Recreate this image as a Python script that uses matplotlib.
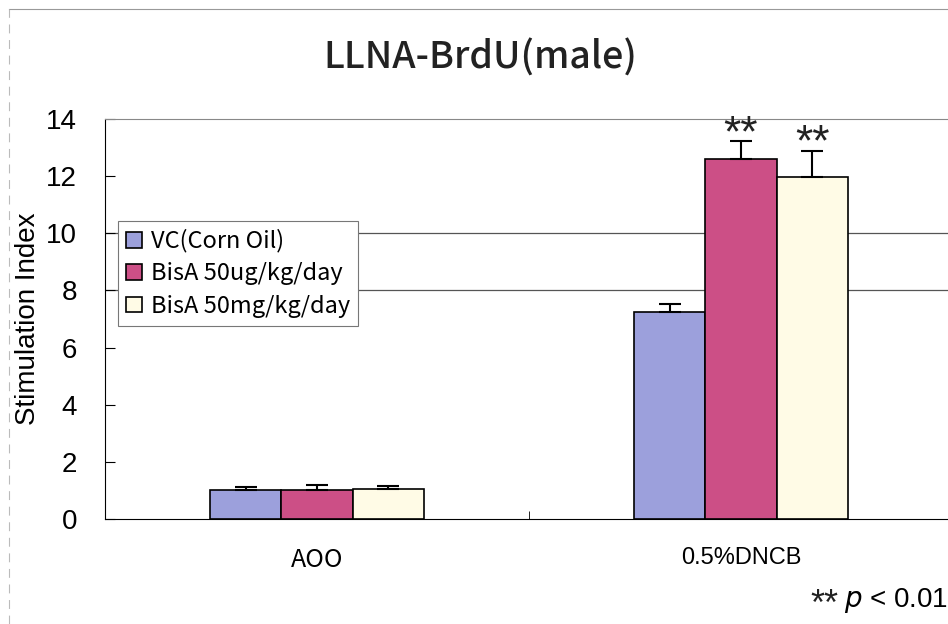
import matplotlib.pyplot as plt
import numpy as np
from matplotlib.lines import Line2D

groups = ['AOO', '0.5%DNCB']
series = ['VC(Corn Oil)', 'BisA 50ug/kg/day', 'BisA 50mg/kg/day']
means = [[1.00, 7.25],
         [1.00, 12.60],
         [1.05, 11.97]]
sd = [[0.13, 0.27],
      [0.20, 0.63],
      [0.12, 0.92]]
stars = [['', ''], ['', '**'], ['', '**']]
colors = ['#9ca0dc', '#cc4f86', '#fffbe6']

jp = ['Noto Sans CJK JP', 'DejaVu Sans']
plt.rcParams['font.family'] = ['Liberation Sans', 'DejaVu Sans']

fig = plt.figure(figsize=(9.48, 6.24), dpi=100)
ax = fig.add_axes([105 / 948, 105 / 624, 848 / 948, 400 / 624])

x = np.arange(len(groups))
w = 0.168
for i, name in enumerate(series):
    pos = x + (i - 1) * w
    ax.bar(pos, means[i], w, color=colors[i], edgecolor='black', linewidth=1.2,
           label=name, zorder=3)
    ax.errorbar(pos, means[i], yerr=[np.zeros(len(groups)), sd[i]], fmt='none',
                ecolor='black', elinewidth=1.5, capsize=8, capthick=1.5, zorder=4)
    for p, m, s, t in zip(pos, means[i], sd[i], stars[i]):
        if t:
            # asterisks sit high on the baseline, so anchor on it
            ax.text(p, m + s - 0.17, t, ha='center', va='baseline', fontsize=32,
                    color='#222222')

ax.set_xlim(-0.5, 1.5)
ax.set_ylim(0, 14)
ax.set_yticks(range(0, 15, 2))
ax.set_xticks(x)
ax.set_xticklabels(groups, fontsize=17)
ax.get_xticklabels()[0].set_fontfamily(jp)
ax.get_xticklabels()[0].set_fontsize(18)
ax.set_xticks([0.5], minor=True)
ax.tick_params(axis='x', which='major', length=0, pad=20)
ax.tick_params(axis='x', which='minor', length=6, direction='in')
ax.tick_params(axis='y', labelsize=20, direction='in', length=7, pad=20)
for yv in (8, 10):
    ax.axhline(yv, color='#555555', linewidth=0.9, zorder=1)
ax.spines['right'].set_visible(False)
ax.spines['top'].set_color('#888888')
ax.spines['top'].set_linewidth(0.8)
ax.set_ylabel('Stimulation Index', fontsize=20, labelpad=4)

leg = ax.legend(loc='upper left', bbox_to_anchor=(118 / 948, 1 - 221 / 624),
                bbox_transform=fig.transFigure, prop={'family': jp, 'size': 17},
                fancybox=False, framealpha=1, edgecolor='#777777',
                handlelength=0.65, handleheight=0.65, handletextpad=0.4,
                labelspacing=0.4, borderpad=0.35, borderaxespad=0)
leg.get_frame().set_linewidth(0.8)
leg.set_zorder(5)

fig.text(0.507, 1 - 57.5 / 624, 'LLNA-BrdU(male)', ha='center', va='center',
         fontsize=27, family=jp, fontweight='medium', color='#222222')

# significance note, asterisks drawn larger than the rest
fig.text(838 / 948, 9 / 624, '**', ha='right', va='baseline', fontsize=26,
         color='#222222')
fig.text(0.9995, 17 / 624, r'$p$ < 0.01', ha='right', va='baseline', fontsize=20)

# faint page border
fig.add_artist(Line2D([0.01, 1.0], [0.985, 0.985], color='#999999', linewidth=0.8))
fig.add_artist(Line2D([0.009, 0.009], [0.0, 0.985], color='#bbbbbb', linewidth=0.8,
                      linestyle=(0, (8, 6))))

fig.savefig('out.png', dpi=100)
